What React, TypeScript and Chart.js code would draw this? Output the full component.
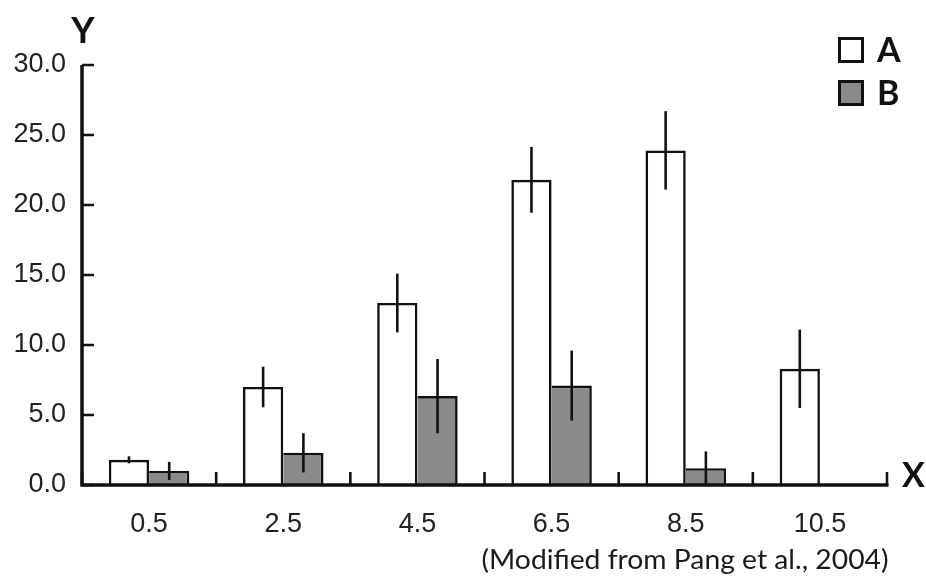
import React, { useEffect, useRef } from "react";
import { Chart, registerables } from "chart.js";

Chart.register(...registerables);

const categories = ["0.5", "2.5", "4.5", "6.5", "8.5", "10.5"];
const seriesA = [1.8, 7.0, 13.0, 21.8, 23.9, 8.3];
const errorA = [0.25, 1.45, 2.1, 2.35, 2.8, 2.8];
const seriesB: (number | null)[] = [1.0, 2.3, 6.35, 7.1, 1.2, null];
const errorB: (number | null)[] = [0.65, 1.4, 2.65, 2.5, 1.2, null];
const yTicks = { min: 0, max: 30, step: 5 };
const labelA = "A";
const labelB = "B";
const caption = "(Modified from Pang et al., 2004)";

const INK = "#111111";
const GRAY = "#8a8a8a";

const decorPlugin = {
  id: "decor",
  afterDatasetsDraw(chart: any) {
    const ctx = chart.ctx;
    const xs = chart.scales.x;
    const ys = chart.scales.y;
    const area = chart.chartArea;
    ctx.save();
    // error bars
    const errs = [errorA, errorB];
    chart.data.datasets.forEach((ds: any, di: number) => {
      const meta = chart.getDatasetMeta(di);
      meta.data.forEach((el: any, i: number) => {
        const v = ds.data[i];
        const e = errs[di][i];
        if (v == null || e == null) return;
        const top = ys.getPixelForValue(v + e);
        const bot = ys.getPixelForValue(Math.max(0, v - e));
        ctx.beginPath();
        ctx.strokeStyle = INK;
        ctx.lineWidth = 2.6;
        ctx.moveTo(el.x, top);
        ctx.lineTo(el.x, bot);
        ctx.stroke();
      });
    });
    // axes
    ctx.strokeStyle = INK;
    ctx.lineWidth = 3.5;
    ctx.lineCap = "butt";
    ctx.beginPath();
    ctx.moveTo(area.left, ys.getPixelForValue(yTicks.max));
    ctx.lineTo(area.left, area.bottom + 1.75);
    ctx.moveTo(area.left - 1.75, area.bottom);
    ctx.lineTo(area.right + 1.5, area.bottom);
    ctx.stroke();
    // y ticks inward
    ctx.lineWidth = 2.6;
    ctx.beginPath();
    ys.ticks.forEach((t: any) => {
      const y = ys.getPixelForValue(t.value);
      ctx.moveTo(area.left, y);
      ctx.lineTo(area.left + 12, y);
    });
    ctx.stroke();
    // x ticks at category boundaries, pointing up
    ctx.beginPath();
    for (let i = 0; i <= categories.length; i++) {
      const x = xs.getPixelForValue(i - 0.5);
      ctx.moveTo(x, area.bottom);
      ctx.lineTo(x, area.bottom - 13);
    }
    ctx.stroke();

    // axis titles
    ctx.fillStyle = INK;
    ctx.textBaseline = "alphabetic";
    ctx.font = "bold 36px Lato";
    ctx.textAlign = "center";
    ctx.fillText("Y", area.left + 1, 43);
    ctx.font = "bold 34px Lato";
    ctx.textAlign = "left";
    ctx.fillText("X", area.right + 15, 487);

    // legend
    const items = [
      { label: labelA, fill: "#ffffff", y: 37 },
      { label: labelB, fill: GRAY, y: 80 },
    ];
    items.forEach((it) => {
      ctx.fillStyle = it.fill;
      ctx.fillRect(838, it.y, 26, 26);
      ctx.strokeStyle = INK;
      ctx.lineWidth = 3;
      ctx.strokeRect(839.5, it.y + 1.5, 23, 23);
      ctx.fillStyle = INK;
      ctx.font = "bold 34px Lato";
      ctx.textAlign = "left";
      ctx.fillText(it.label, 877, it.y + 25);
    });

    // caption
    ctx.fillStyle = "#1a1a1a";
    ctx.font = "26px Lato";
    ctx.textAlign = "center";
    const w = ctx.measureText(caption).width;
    ctx.translate(685, 569);
    ctx.scale(407 / w, 1);
    ctx.fillText(caption, 0, 0);
    ctx.restore();
  },
};

export default function App() {
  const ref = useRef<HTMLCanvasElement | null>(null);
  useEffect(() => {
    if (!ref.current) return;
    const chart = new Chart(ref.current, {
      type: "bar",
      data: {
        labels: categories,
        datasets: [
          {
            label: labelA,
            data: seriesA,
            backgroundColor: "#ffffff",
            borderColor: INK,
            borderWidth: 2.6,
            borderSkipped: "start",
          },
          {
            label: labelB,
            data: seriesB,
            backgroundColor: GRAY,
            borderColor: INK,
            borderWidth: { top: 2.6, right: 2.6, left: 0, bottom: 0 },
            borderSkipped: "start",
          },
        ],
      },
      options: {
        responsive: false,
        animation: false,
        layout: { padding: { left: 0, top: 65, right: 39, bottom: 0 } },
        plugins: {
          legend: { display: false },
          tooltip: { enabled: false },
        },
        datasets: { bar: { categoryPercentage: 0.6, barPercentage: 1.0 } },
        scales: {
          x: {
            grid: { display: false, drawTicks: false },
            border: { display: false },
            ticks: {
              color: "#222",
              font: { family: "'Liberation Sans', Arial, sans-serif", size: 27 },
              padding: 23,
              maxRotation: 0,
            },
            afterFit: (s: any) => {
              s.height = 91;
            },
          },
          y: {
            min: yTicks.min,
            max: yTicks.max,
            grid: { display: false, drawTicks: false },
            border: { display: false },
            ticks: {
              stepSize: yTicks.step,
              color: "#222",
              font: { family: "'Liberation Sans', Arial, sans-serif", size: 27 },
              padding: 16,
              callback: (v: any) => Number(v).toFixed(1),
            },
            afterFit: (s: any) => {
              s.width = 82;
            },
          },
        },
      } as any,
      plugins: [decorPlugin],
    });
    return () => chart.destroy();
  }, []);
  return (
    <div style={{ position: "fixed", left: 0, top: 0, width: 926, height: 576, background: "#fff" }}>
      <canvas ref={ref} width={926} height={576} />
    </div>
  );
}
